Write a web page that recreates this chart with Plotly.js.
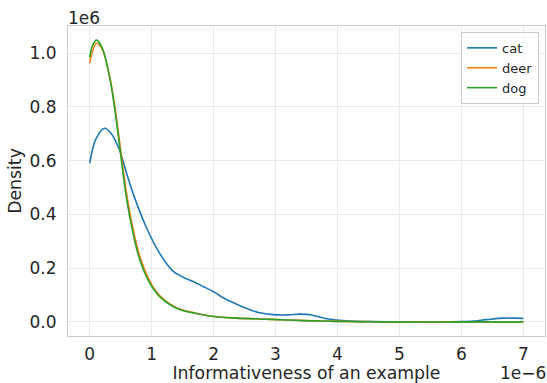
<!DOCTYPE html>
<html>
<head>
<meta charset="utf-8">
<script src="https://cdn.plot.ly/plotly-3.0.1.min.js"></script>
<style>html,body{margin:0;padding:0;background:#fff;}#chart{width:547px;height:383px;}</style>
</head>
<body>
<div id="chart"></div>
<script>
// x in units of 1e-6, density in units of 1e6
const catX = [0,0.1,0.24,0.35,0.48,0.6,0.7,0.91,1.13,1.34,1.5,1.67,1.83,2.0,2.2,2.4,2.58,2.74,2.96,3.2,3.39,3.55,3.66,3.8,3.98,4.2,4.5,5,5.5,6,6.2,6.34,6.5,6.67,6.85,7];
const catY = [0.59,0.68,0.72,0.70,0.64,0.55,0.478,0.354,0.255,0.190,0.167,0.150,0.132,0.112,0.084,0.063,0.046,0.034,0.027,0.026,0.029,0.027,0.021,0.013,0.007,0.003,0.001,0,0,0.001,0.003,0.007,0.011,0.014,0.014,0.013];
const dogX = [0,0.05,0.11,0.2,0.32,0.4,0.48,0.59,0.7,0.81,0.97,1.13,1.4,1.7,1.94,2.3,2.74,3.2,3.6,4,5,6,7];
const dogY = [0.984,1.03,1.048,1.02,0.912,0.80,0.66,0.466,0.33,0.23,0.144,0.094,0.051,0.032,0.022,0.015,0.011,0.007,0.004,0.002,0,0,0];
const deerX = dogX;
const deerY = [0.962,1.01,1.036,1.015,0.915,0.81,0.675,0.485,0.345,0.243,0.152,0.098,0.053,0.033,0.022,0.015,0.011,0.007,0.004,0.002,0,0,0];
const xTicks = [0,1,2,3,4,5,6,7];
const yTicks = [0,0.2,0.4,0.6,0.8,1.0];
const yTickText = ['0.0','0.2','0.4','0.6','0.8','1.0'];

const font = 'DejaVu Sans, sans-serif';
const traces = [
  {x: catX, y: catY, name: 'cat', mode: 'lines', line: {color: '#1f77b4', width: 1.6, shape: 'spline', smoothing: 1}},
  {x: deerX, y: deerY, name: 'deer', mode: 'lines', line: {color: '#ff7f0e', width: 1.6, shape: 'spline'}},
  {x: dogX, y: dogY, name: 'dog', mode: 'lines', line: {color: '#2ca02c', width: 1.6, shape: 'spline'}}
];
const layout = {
  width: 547, height: 383,
  margin: {l: 68, r: 2, t: 26, b: 47},
  paper_bgcolor: '#fff', plot_bgcolor: '#fff',
  font: {family: font, color: '#262626', size: 17},
  showlegend: true,
  legend: {x: 0.824, y: 0.981, xanchor: 'left', yanchor: 'top', bordercolor: '#cccccc', borderwidth: 1,
           bgcolor: 'rgba(255,255,255,0.8)', font: {size: 13, family: font, color: '#262626'}, tracegroupgap: 0},
  xaxis: {
    range: [-0.35, 7.35], tickvals: xTicks, ticktext: xTicks.map(String),
    showgrid: true, gridcolor: '#ebebeb', gridwidth: 1, zeroline: false,
    showline: true, linecolor: '#cccccc', linewidth: 1, mirror: true, ticks: '',
    tickfont: {size: 17}, ticklabelstandoff: 3,
    title: {text: 'Informativeness of an example', font: {size: 17.3}, standoff: 3}
  },
  yaxis: {
    range: [-0.0524, 1.1004], tickvals: yTicks, ticktext: yTickText,
    showgrid: true, gridcolor: '#ebebeb', gridwidth: 1, zeroline: false,
    showline: true, linecolor: '#cccccc', linewidth: 1, mirror: true, ticks: '',
    tickfont: {size: 17}, ticklabelstandoff: 7,
    title: {text: 'Density', font: {size: 17.3}, standoff: 3}
  },
  annotations: [
    {text: '1e6', xref: 'paper', yref: 'paper', x: 0, y: 1, xanchor: 'left', yanchor: 'bottom', showarrow: false, font: {size: 17}, xshift: -2, yshift: -4},
    {text: '1e\u22126', xref: 'paper', yref: 'paper', x: 1, y: 0, xanchor: 'right', yanchor: 'top', showarrow: false, font: {size: 17}, xshift: 3, yshift: -25}
  ]
};
Plotly.newPlot('chart', traces, layout, {displayModeBar: false, staticPlot: true});
</script>
</body>
</html>
